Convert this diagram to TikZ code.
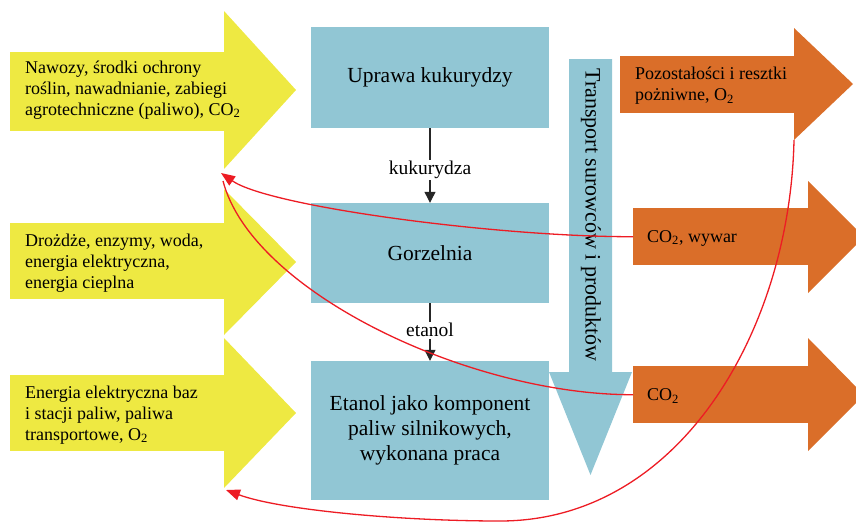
\documentclass[tikz,border=0pt]{standalone}
\usepackage{fontspec}
\setmainfont{Liberation Serif}
\usetikzlibrary{arrows.meta}
\definecolor{yel}{RGB}{238,233,66}
\definecolor{blu}{RGB}{145,198,212}
\definecolor{ora}{RGB}{218,110,41}
\definecolor{redc}{RGB}{237,28,36}
\begin{document}
\begin{tikzpicture}[x=1pt,y=-1pt,
  sidetext/.style={anchor=west,align=left,inner sep=0pt,font=\fontsize{18}{21}\selectfont},
  ybody/.style={fill=yel,inner sep=0pt,anchor=north west,minimum width=215pt},
  obody/.style={fill=ora,inner sep=0pt,anchor=north west,minimum height=57pt},
  bluebox/.style={fill=blu,inner sep=0pt,minimum width=238pt,align=center,font=\fontsize{21.5}{25}\selectfont},
  flowlabel/.style={fill=white,inner sep=1.5pt,font=\fontsize{19.5}{22}\selectfont},
  flow/.style={draw=black!85,line width=1.2pt,-{Triangle[length=11pt,width=11pt]}},
  feedback/.style={draw=redc,line width=1.3pt},
  fbtip/.style={-{Triangle[length=14pt,width=11pt]}},
]
\clip (0,0) rectangle (856,522);
% yellow input arrows
\node[ybody,minimum height=79pt] (y1) at (10,52) {};
\fill[yel] (224,11) -- (296,90) -- (224,169) -- cycle;
\node[ybody,minimum height=76pt] (y2) at (10,223) {};
\fill[yel] (224,189) -- (296,262) -- (224,335) -- cycle;
\node[ybody,minimum height=76pt] (y3) at (10,375) {};
\fill[yel] (224,338) -- (296,413) -- (224,488) -- cycle;
\node[sidetext] (t1) at (25,90) {Nawozy, środki ochrony\\roślin, nawadnianie, zabiegi\\agrotechniczne (paliwo), CO\textsubscript{2}};
\node[sidetext] (t2) at (25,263) {Drożdże, enzymy, woda,\\energia elektryczna,\\energia cieplna};
\node[sidetext] (t3) at (25,415) {Energia elektryczna baz\\i stacji paliw, paliwa\\transportowe, O\textsubscript{2}};
% blue process boxes
\node[bluebox,minimum height=101pt] (b1) at (430,77.5) {Uprawa kukurydzy};
\node[bluebox,minimum height=100pt] (b2) at (430,253) {Gorzelnia};
\node[bluebox,minimum height=139pt] (b3) at (430,430.5) {Etanol jako komponent\\paliw silnikowych,\\wykonana praca};
% transport arrow
\fill[blu] (569,59) -- (612,59) -- (612,372) -- (632,372) -- (590.5,475) -- (549,372) -- (569,372) -- cycle;
\node[rotate=-90,inner sep=0pt,font=\fontsize{22}{26}\selectfont] (tr) at (591,215) {Transport surowców i produktów};
% orange output arrows
\node[obody,minimum width=175pt] (o1) at (620,56) {};
\fill[ora] (794,28) -- (853,84) -- (794,140) -- cycle;
\node[obody,minimum width=176pt] (o2) at (633,208) {};
\fill[ora] (808,181) -- (864,237) -- (808,293) -- cycle;
\node[obody,minimum width=176pt] (o3) at (633,366) {};
\fill[ora] (808,338) -- (864,395) -- (808,451) -- cycle;
\node[sidetext] (to1) at (635,86) {Pozostałości i resztki\\pożniwne, O\textsubscript{2}};
\node[sidetext] (to2) at (647,238) {CO\textsubscript{2}, wywar};
\node[sidetext] (to3) at (647,396) {CO\textsubscript{2}};
% flow arrows
\draw[flow] (b1) -- node[flowlabel,pos=0.56] (l1) {kukurydza} (b2);
\draw[flow] (b2) -- node[flowlabel,pos=0.47] (l2) {etanol} (b3);
% red feedback curves
\coordinate (fb1) at (221,173);
\coordinate (fb1b) at (223,181);
\coordinate (fb3) at (226,490);
\coordinate (o1c) at (794,140);
\draw[feedback,fbtip] (o2.west) .. controls (500,237) and (270,207) .. (fb1);
\draw[feedback] (o3.west) .. controls (470,395) and (252,292) .. (fb1b);
\draw[feedback,fbtip] (o1c) .. controls (790,330) and (680,521) .. (500,521) .. controls (400,521) and (280,510) .. (fb3);
\end{tikzpicture}
\end{document}
